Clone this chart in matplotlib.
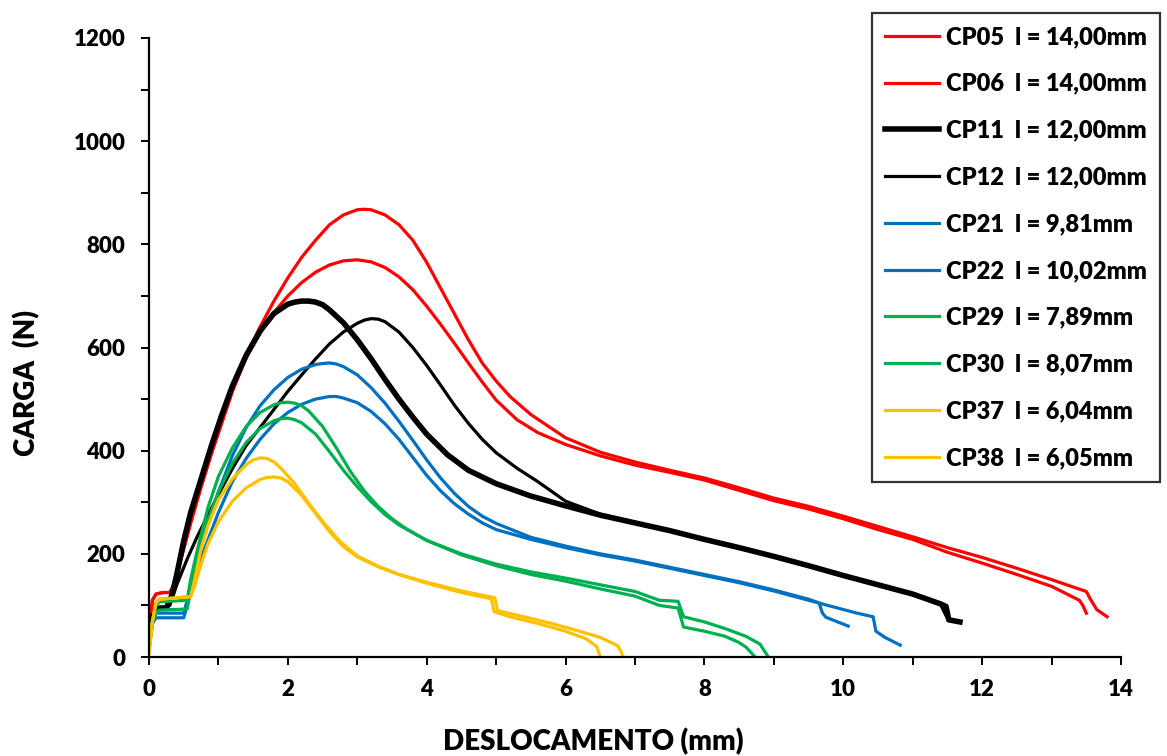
import matplotlib
matplotlib.use("Agg")
import matplotlib.pyplot as plt
from matplotlib.ticker import MultipleLocator

plt.rcParams['font.family'] = ['Lato', 'DejaVu Sans']
plt.rcParams['font.weight'] = 'heavy'

# curves: displacement (mm) and load (N)
cp05_x = [0, 0.05, 0.1, 0.2, 0.3, 0.36, 0.45, 0.6, 0.75, 0.9, 1.05, 1.2, 1.4, 1.6, 1.8, 2.0, 2.2, 2.4, 2.6,
          2.8, 3.0, 3.1, 3.2, 3.4, 3.6, 3.8, 4.0, 4.2, 4.4, 4.6, 4.8, 5.0, 5.2, 5.5, 6.0, 6.5, 7.0, 7.5,
          8.0, 8.5, 9.0, 9.5, 10.0, 10.5, 11.0, 11.5, 12.0, 12.5, 13.0, 13.5, 13.56, 13.65, 13.8]
cp05_y = [50, 110, 122, 125, 125, 140, 185, 260, 330, 395, 455, 515, 585, 640, 690, 735, 775, 808, 838,
          857, 867, 868, 867, 857, 838, 808, 765, 715, 665, 615, 570, 535, 505, 470, 425, 397, 378, 362,
          347, 328, 308, 292, 273, 253, 233, 212, 193, 172, 150, 127, 112, 92, 78]

cp06_x = [0, 0.05, 0.1, 0.2, 0.3, 0.36, 0.45, 0.6, 0.75, 0.9, 1.05, 1.2, 1.4, 1.6, 1.8, 2.0, 2.2, 2.4, 2.6,
          2.8, 3.0, 3.2, 3.4, 3.6, 3.8, 4.0, 4.2, 4.4, 4.6, 4.8, 5.0, 5.3, 5.6, 6.0, 6.5, 7.0, 7.5, 8.0,
          8.5, 9.0, 9.5, 10.0, 10.5, 11.0, 11.5, 12.0, 12.5, 13.0, 13.4, 13.45, 13.5]
cp06_y = [50, 110, 122, 125, 125, 140, 185, 260, 330, 395, 455, 515, 580, 628, 668, 700, 726, 746, 760,
          768, 770, 766, 755, 737, 712, 680, 645, 608, 570, 533, 498, 460, 435, 412, 390, 372, 358, 343,
          323, 303, 287, 268, 247, 228, 203, 182, 160, 137, 110, 100, 85]

cp11_x = [0, 0.05, 0.15, 0.25, 0.33, 0.4, 0.5, 0.6, 0.75, 0.9, 1.05, 1.2, 1.4, 1.6, 1.8, 2.0, 2.1, 2.2,
          2.3, 2.4, 2.5, 2.6, 2.8, 3.0, 3.2, 3.4, 3.6, 3.8, 4.0, 4.3, 4.6, 5.0, 5.5, 6.0, 6.5, 7.0, 7.5,
          8.0, 8.5, 9.0, 9.5, 10.0, 10.5, 11.0, 11.4, 11.48, 11.52, 11.68]
cp11_y = [40, 80, 95, 95, 120, 160, 225, 280, 345, 410, 470, 525, 585, 632, 666, 684, 688, 690,
          690, 688, 683, 673, 648, 615, 578, 538, 500, 465, 432, 392, 362, 336, 312, 293, 275, 260, 245,
          228, 212, 195, 177, 158, 140, 122, 103, 98, 72, 68]

cp12_x = [0, 0.1, 0.2, 0.3, 0.4, 0.55, 0.7, 0.85, 1.0, 1.2, 1.4, 1.6, 1.8, 2.0, 2.2, 2.4, 2.6, 2.8, 3.0,
          3.1, 3.2, 3.3, 3.4, 3.6, 3.8, 4.0, 4.2, 4.4, 4.6, 4.8, 5.0, 5.3, 5.6, 6.0, 6.5, 7.0, 7.5, 8.0,
          8.5, 9.0, 9.5, 10.0, 10.5, 11.0, 11.4, 11.45, 11.5]
cp12_y = [45, 90, 95, 100, 140, 190, 235, 275, 315, 365, 410, 445, 480, 515, 547, 578, 607, 630, 647,
          653, 656, 655, 650, 630, 600, 565, 527, 488, 453, 422, 396, 366, 340, 302, 277, 261, 246, 229,
          213, 196, 178, 159, 141, 122, 102, 88, 75]

cp21_x = [0, 0.05, 0.1, 0.5, 0.55, 0.65, 0.8, 1.0, 1.2, 1.4, 1.6, 1.8, 2.0, 2.2, 2.4, 2.5, 2.6, 2.7, 2.8,
          3.0, 3.2, 3.4, 3.6, 3.8, 4.0, 4.2, 4.4, 4.6, 4.8, 5.0, 5.5, 6.0, 6.5, 7.0, 7.5, 8.0, 8.5, 9.0,
          9.5, 9.65, 9.7, 9.75, 10.07]
cp21_y = [20, 70, 85, 85, 110, 170, 240, 320, 390, 445, 487, 518, 542, 558, 567, 569, 570, 568, 563,
          547, 522, 492, 457, 420, 382, 347, 317, 292, 273, 259, 232, 215, 200, 188, 174, 160, 146, 130,
          112, 105, 85, 77, 60]

cp22_x = [0, 0.05, 0.1, 0.5, 0.55, 0.65, 0.8, 1.0, 1.2, 1.4, 1.6, 1.8, 2.0, 2.2, 2.4, 2.6, 2.7, 2.8, 3.0,
          3.2, 3.4, 3.6, 3.8, 4.0, 4.2, 4.4, 4.6, 4.8, 5.0, 5.5, 6.0, 6.5, 7.0, 7.5, 8.0, 8.5, 9.0, 9.5,
          10.0, 10.2, 10.43, 10.47, 10.6, 10.82]
cp22_y = [20, 65, 76, 76, 100, 150, 210, 280, 340, 385, 422, 452, 474, 490, 500, 505, 505, 502, 493,
          476, 452, 422, 387, 352, 322, 297, 277, 260, 247, 228, 212, 198, 186, 172, 158, 144, 128, 110,
          92, 85, 78, 50, 38, 23]

cp29_x = [0, 0.05, 0.1, 0.15, 0.55, 0.6, 0.7, 0.85, 1.0, 1.2, 1.4, 1.6, 1.8, 1.9, 2.0, 2.1, 2.2, 2.3, 2.5,
          2.7, 2.9, 3.1, 3.3, 3.5, 3.7, 4.0, 4.5, 5.0, 5.5, 6.0, 6.5, 7.0, 7.35, 7.62, 7.7, 8.0, 8.3, 8.6,
          8.8, 8.92]
cp29_y = [15, 70, 100, 107, 110, 150, 210, 290, 350, 405, 447, 474, 489, 493, 494, 492, 487, 477, 447,
          405, 360, 322, 292, 268, 249, 226, 200, 180, 165, 153, 140, 127, 110, 108, 78, 68, 55, 40,
          25, 0]

cp30_x = [0, 0.05, 0.1, 0.15, 0.55, 0.6, 0.7, 0.85, 1.0, 1.2, 1.4, 1.6, 1.8, 1.9, 2.0, 2.1, 2.2, 2.4, 2.6,
          2.8, 3.0, 3.2, 3.4, 3.6, 4.0, 4.5, 5.0, 5.5, 6.0, 6.5, 7.0, 7.35, 7.62, 7.7, 8.0, 8.3, 8.5, 8.6,
          8.73]
cp30_y = [15, 65, 85, 91, 93, 130, 190, 265, 320, 375, 416, 443, 458, 462, 463, 460, 454, 432, 398,
          362, 330, 301, 276, 256, 226, 198, 177, 160, 147, 132, 118, 100, 95, 58, 50, 40, 28, 19, 0]

cp37_x = [0, 0.05, 0.1, 0.15, 0.6, 0.65, 0.75, 0.85, 1.0, 1.2, 1.4, 1.5, 1.6, 1.7, 1.8, 1.9, 2.1, 2.3,
          2.5, 2.75, 3.0, 3.3, 3.6, 4.0, 4.5, 4.93, 4.97, 5.2, 5.6, 6.0, 6.3, 6.45, 6.5]
cp37_y = [8, 70, 105, 112, 117, 145, 210, 255, 305, 345, 373, 382, 386, 385, 378, 366, 336, 298,
          263, 224, 196, 176, 160, 143, 125, 113, 88, 78, 65, 50, 35, 20, 0]

cp38_x = [0, 0.05, 0.1, 0.15, 0.6, 0.65, 0.75, 0.85, 1.0, 1.2, 1.4, 1.6, 1.7, 1.8, 1.9, 2.0, 2.2, 2.4,
          2.6, 2.8, 3.0, 3.3, 3.6, 4.0, 4.5, 4.98, 5.02, 5.4, 5.8, 6.2, 6.5, 6.75, 6.8, 6.83]
cp38_y = [8, 70, 105, 112, 117, 135, 180, 220, 262, 302, 328, 344, 348, 349, 347, 340, 313, 278,
          243, 214, 194, 175, 160, 145, 128, 115, 90, 78, 65, 50, 38, 22, 10, 0]

labels = ['CP05  l = 14,00mm', 'CP06  l = 14,00mm', 'CP11  l = 12,00mm', 'CP12  l = 12,00mm',
          'CP21  l = 9,81mm', 'CP22  l = 10,02mm', 'CP29  l = 7,89mm', 'CP30  l = 8,07mm',
          'CP37  l = 6,04mm', 'CP38  l = 6,05mm']

red, blue, green, yellow = '#FF0000', '#0070C0', '#00B050', '#FFC000'

fig = plt.figure(figsize=(11.67, 7.56), dpi=100)
ax = fig.add_axes([149/1167, 99/756, 972/1167, 619/756])

ax.plot(cp05_x, cp05_y, color=red, lw=2.3, label=labels[0])
ax.plot(cp06_x, cp06_y, color=red, lw=2.3, label=labels[1])
ax.plot(cp11_x, cp11_y, color='black', lw=4.0, label=labels[2])
ax.plot(cp12_x, cp12_y, color='black', lw=2.3, label=labels[3])
ax.plot(cp21_x, cp21_y, color=blue, lw=2.3, label=labels[4])
ax.plot(cp22_x, cp22_y, color=blue, lw=2.3, label=labels[5])
ax.plot(cp29_x, cp29_y, color=green, lw=2.3, label=labels[6])
ax.plot(cp30_x, cp30_y, color=green, lw=2.3, label=labels[7])
ax.plot(cp37_x, cp37_y, color=yellow, lw=2.3, label=labels[8])
ax.plot(cp38_x, cp38_y, color=yellow, lw=2.3, label=labels[9])

ax.set_xlim(0, 14)
ax.set_ylim(0, 1200)
ax.xaxis.set_major_locator(MultipleLocator(2))
ax.xaxis.set_minor_locator(MultipleLocator(1))
ax.yaxis.set_major_locator(MultipleLocator(200))
ax.yaxis.set_minor_locator(MultipleLocator(100))
ax.spines['top'].set_visible(False)
ax.spines['right'].set_visible(False)
ax.spines['left'].set_linewidth(1.6)
ax.spines['bottom'].set_linewidth(1.6)
ax.tick_params(which='both', direction='out', length=6, width=1.4, labelsize=16)
ax.tick_params(axis='y', pad=11)
ax.tick_params(axis='x', pad=10)

ax.set_xlabel('DESLOCAMENTO (mm)', fontsize=20, fontweight='heavy')
ax.set_ylabel('CARGA  (N)', fontsize=20, fontweight='heavy')
ax.xaxis.set_label_coords(0.457, -0.115)
ax.yaxis.set_label_coords(-0.112, 0.443)

# legend box sits partly outside the plot area, top right of the figure
leg = fig.legend(loc='upper right', bbox_to_anchor=(1160/1167, 743/756), borderaxespad=0,
                 fontsize=17, labelspacing=1.05, handlelength=2.3, handletextpad=0.3,
                 borderpad=0.55, fancybox=False, frameon=True, edgecolor='black')
leg.get_frame().set_linewidth(1.6)

fig.savefig('out.png', dpi=100)
